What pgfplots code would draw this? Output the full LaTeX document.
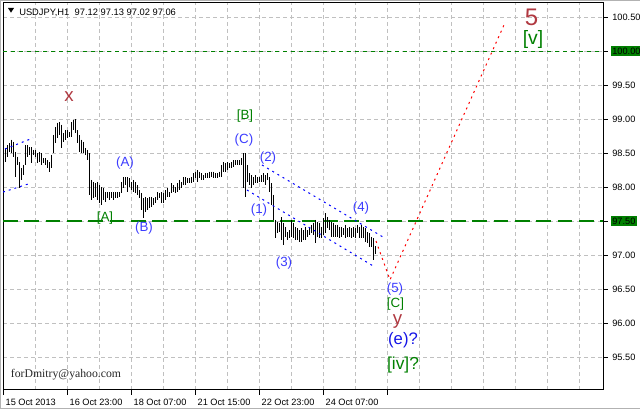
\documentclass[border=0pt]{standalone}
\usepackage{fontspec}
\setmainfont{Liberation Sans}
\newfontfamily\serifwm{Liberation Serif}
\usepackage{pgfplots}
\usepackage{pgfplotstable}
\pgfplotsset{compat=1.18}
\definecolor{mtgreen}{RGB}{0,128,0}
\definecolor{mtblue}{RGB}{60,60,255}
\definecolor{mtdblue}{RGB}{20,20,230}
\definecolor{mtred}{RGB}{176,56,64}
\definecolor{gridgray}{RGB}{192,192,192}
\setlength{\fboxsep}{1.2pt}
\newcommand{\pricelabel}[1]{%
  \ifdim#1pt=97.5pt\relax\hspace*{-1.2pt}\colorbox{mtgreen}{\pgfmathprintnumber{#1}}%
  \else\ifdim#1pt=100pt\relax\hspace*{-1.2pt}\colorbox{mtgreen}{\pgfmathprintnumber{#1}}%
  \else\pgfmathprintnumber{#1}\fi\fi}

\pgfplotstableread{
i h l
1 98.58 98.37
2 98.62 98.45
3 98.65 98.52
4 98.70 98.50
5 98.67 98.45
6 98.52 98.15
7 98.45 98.33
8 98.37 97.99
9 98.28 98.11
10 98.33 98.18
11 98.62 98.33
12 98.62 98.45
13 98.59 98.48
14 98.59 98.36
15 98.55 98.48
16 98.55 98.45
17 98.50 98.36
18 98.52 98.37
19 98.50 98.33
20 98.43 98.36
21 98.43 98.33
22 98.40 98.28
23 98.37 98.23
24 98.48 98.28
25 98.77 98.50
26 98.89 98.65
27 98.95 98.73
28 98.96 98.77
29 98.92 98.58
30 98.80 98.67
31 98.84 98.70
32 98.84 98.73
33 98.81 98.74
34 98.96 98.74
35 98.99 98.84
36 99.00 98.80
37 98.84 98.65
38 98.77 98.52
39 98.70 98.50
40 98.67 98.50
41 98.58 98.48
42 98.55 98.40
43 98.50 97.89
44 98.11 97.81
45 98.08 97.84
46 98.06 97.86
47 98.08 97.81
48 98.03 97.77
49 98.00 97.74
50 97.99 97.81
51 97.93 97.78
52 97.93 97.84
53 97.93 97.81
54 97.93 97.84
55 97.93 97.81
56 97.93 97.84
57 97.93 97.84
58 97.93 97.86
59 98.08 97.92
60 98.15 97.99
61 98.15 98.03
62 98.15 97.93
63 98.14 98.00
64 98.08 97.96
65 98.11 97.93
66 98.08 97.92
67 98.03 97.89
68 97.96 97.84
69 97.92 97.67
70 97.84 97.55
71 97.86 97.64
72 97.84 97.67
73 97.86 97.70
74 97.86 97.71
75 97.84 97.74
76 97.86 97.77
77 97.93 97.81
78 97.92 97.84
79 97.93 97.77
80 97.92 97.77
81 97.96 97.81
82 97.99 97.86
83 97.93 97.86
84 98.06 97.92
85 98.03 97.93
86 98.00 97.92
87 98.06 97.93
88 98.11 97.96
89 98.08 97.99
90 98.15 98.03
91 98.15 98.03
92 98.14 98.06
93 98.14 98.06
94 98.15 98.06
95 98.21 98.08
96 98.23 98.14
97 98.25 98.08
98 98.23 98.14
99 98.21 98.11
100 98.18 98.11
101 98.21 98.14
102 98.21 98.14
103 98.23 98.14
104 98.23 98.15
105 98.23 98.14
106 98.21 98.14
107 98.21 98.14
108 98.23 98.15
109 98.33 98.15
110 98.37 98.23
111 98.36 98.23
112 98.37 98.25
113 98.36 98.28
114 98.37 98.28
115 98.40 98.30
116 98.40 98.33
117 98.40 98.33
118 98.40 98.33
119 98.43 98.33
120 98.50 97.99
121 98.50 97.86
122 98.33 98.08
123 98.21 98.03
124 98.18 97.99
125 98.15 98.03
126 98.18 98.06
127 98.15 98.06
128 98.15 98.08
129 98.18 98.08
130 98.21 98.08
131 98.18 98.03
132 98.21 98.11
133 98.15 97.93
134 98.06 97.74
135 97.89 97.52
136 97.52 97.25
137 97.49 97.33
138 97.48 97.34
139 97.56 97.23
140 97.48 97.15
141 97.42 97.27
142 97.34 97.23
143 97.37 97.25
144 97.52 97.27
145 97.48 97.25
146 97.42 97.23
147 97.40 97.23
148 97.37 97.20
149 97.40 97.20
150 97.37 97.23
151 97.42 97.23
152 97.37 97.27
153 97.42 97.30
154 97.45 97.33
155 97.48 97.30
156 97.52 97.18
157 97.49 97.27
158 97.48 97.25
159 97.42 97.25
160 97.55 97.30
161 97.62 97.33
162 97.56 97.40
163 97.52 97.37
164 97.49 97.27
165 97.48 97.27
166 97.45 97.27
167 97.45 97.27
168 97.42 97.25
169 97.42 97.27
170 97.40 97.30
171 97.45 97.25
172 97.40 97.27
173 97.42 97.27
174 97.40 97.25
175 97.42 97.27
176 97.40 97.25
177 97.45 97.33
178 97.42 97.25
179 97.45 97.25
180 97.42 97.25
181 97.40 97.20
182 97.34 97.18
183 97.33 97.12
184 97.27 97.12
185 97.25 96.93
186 97.13 97.02
}\bars

\begin{document}
\begin{tikzpicture}
\begin{axis}[
  at={(0,0)}, anchor=south west,
  scale only axis, width=450pt, height=290.25pt,
  xmin=0, xmax=300, ymin=95.02, ymax=100.71,
  axis line style={line width=0.75pt},
  xtick={0,32,64,96,128,160,192},
  xticklabels={15 Oct 2013,16 Oct 23:00,18 Oct 07:00,21 Oct 15:00,22 Oct 23:00,24 Oct 07:00,{}},
  minor xtick={16,48,80,112,144,176,208,224,240,256,272,288},
  ytick={95.5,96,96.5,97,97.5,98,98.5,99,99.5,100,100.5},
  yticklabel={\pricelabel{\tick}},
  grid=both,
  major grid style={gridgray, dash pattern=on 3pt off 2.25pt, line width=0.75pt},
  minor grid style={gridgray, dash pattern=on 3pt off 2.25pt, line width=0.75pt},
  tick align=outside,
  xtick pos=bottom, ytick pos=right,
  yticklabel pos=right,
  major tick length=3.5pt, minor tick length=0pt,
  tick style={black, line width=0.75pt},
  ticklabel style={font=\fontsize{6.9}{8}\selectfont},
  xticklabel style={anchor=north west, xshift=-1.5pt},
  yticklabel style={anchor=west},
  scaled y ticks=false,
  /pgf/number format/fixed,
  /pgf/number format/fixed zerofill,
  /pgf/number format/precision=2,
  /pgf/number format/assume math mode=true,
]
% horizontal levels
\addplot[draw=mtgreen, line width=1.5pt, dash pattern=on 11pt off 5pt, mark=none, forget plot] coordinates {(0,97.5) (300,97.5)};
\addplot[draw=mtgreen, line width=0.9pt, dash pattern=on 3pt off 3pt, mark=none, forget plot] coordinates {(0,100) (300,100)};
% price bars
\addplot[black, line width=0.75pt, -, quiver={u=0, v=\thisrow{l}-\thisrow{h}}] table[x=i, y=h] {\bars};
% channels
\addplot[blue, line width=0.75pt, dash pattern=on 1.5pt off 3pt] coordinates {(1,98.563) (15,98.725)};
\addplot[blue, line width=0.75pt, dash pattern=on 1.5pt off 3pt] coordinates {(0,97.93) (12.5,98.048)};
\addplot[blue, line width=0.75pt, dash pattern=on 1.5pt off 3pt] coordinates {(129.5,98.328) (190,97.269)};
\addplot[blue, line width=0.75pt, dash pattern=on 1.5pt off 3pt] coordinates {(122,97.96) (186,96.827)};
% forecast
\addplot[red, line width=0.75pt, dash pattern=on 1.5pt off 3pt] coordinates {(186.5,97.21) (193.5,96.64) (251,100.42)};
% labels
\node[text=black, anchor=base west, inner sep=0pt, font=\fontsize{7}{8}\selectfont] at (axis cs:8,100.53) {USDJPY,H1\hspace{4pt}97.12 97.13 97.02 97.06};
\node[text=mtred, font=\fontsize{14}{16}\selectfont] at (axis cs:33,99.34) {x};
\node[text=mtblue, font=\fontsize{10}{12}\selectfont] at (axis cs:61,98.36) {(A)};
\node[text=mtgreen, font=\fontsize{10}{12}\selectfont] at (axis cs:51,97.55) {[A]};
\node[text=mtblue, font=\fontsize{10}{12}\selectfont] at (axis cs:70.5,97.40) {(B)};
\node[text=mtgreen, font=\fontsize{10}{12}\selectfont] at (axis cs:121,99.05) {[B]};
\node[text=mtblue, font=\fontsize{10}{12}\selectfont] at (axis cs:120.5,98.69) {(C)};
\node[text=mtblue, font=\fontsize{10}{12}\selectfont] at (axis cs:132.5,98.43) {(2)};
\node[text=mtblue, font=\fontsize{10}{12}\selectfont] at (axis cs:128,97.67) {(1)};
\node[text=mtblue, font=\fontsize{10}{12}\selectfont] at (axis cs:140.5,96.89) {(3)};
\node[text=mtblue, font=\fontsize{10}{12}\selectfont] at (axis cs:179,97.70) {(4)};
\node[text=mtblue, font=\fontsize{10}{12}\selectfont] at (axis cs:196,96.50) {(5)};
\node[text=mtgreen, font=\fontsize{10}{12}\selectfont] at (axis cs:196.25,96.29) {[C]};
\node[text=mtred, font=\fontsize{14}{16}\selectfont] at (axis cs:197.25,96.03) {y};
\node[text=mtdblue, font=\fontsize{12.5}{14}\selectfont] at (axis cs:200,95.75) {(e)?};
\node[text=mtgreen, font=\fontsize{13}{15}\selectfont] at (axis cs:200,95.39) {[iv]?};
\node[text=mtred, font=\fontsize{18}{20}\selectfont] at (axis cs:264.25,100.50) {5};
\node[text=mtgreen, font=\fontsize{14.5}{16}\selectfont] at (axis cs:265,100.17) {[v]};
\node[text=black!85, font=\serifwm\fontsize{8.8}{10}\selectfont] at (axis cs:31.5,95.24) {forDmitry@yahoo.com};
\end{axis}
% header triangle
\fill[black] (3.75pt,286.5pt) -- (8.25pt,286.5pt) -- (6pt,283pt) -- cycle;
% window edges
\draw[gray!60, line width=0.75pt] (-1.9pt,-13.5pt) -- (-1.9pt,292pt) -- (477.75pt,292pt);
\draw[gray!60, line width=0.75pt] (-2.25pt,-13.6pt) -- (477.75pt,-13.6pt);
\pgfresetboundingbox
\path (-2.25pt,-14.25pt) rectangle (477.75pt,292.5pt);
\end{tikzpicture}
\end{document}
